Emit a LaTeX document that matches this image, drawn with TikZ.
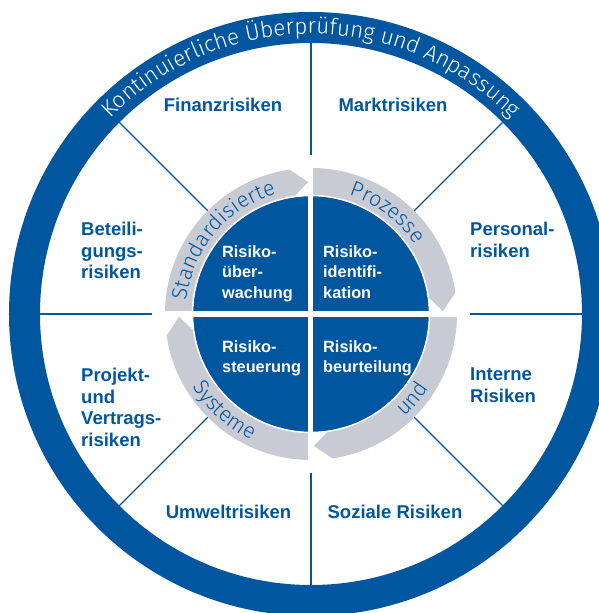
\documentclass[tikz,border=0pt]{standalone}
\usepackage{fontspec}
\setmainfont{Liberation Sans}
\IfFontExistsTF{Fira Sans Light}{\newfontfamily\ringfont{Fira Sans Light}}{\newfontfamily\ringfont{Liberation Sans}}
\usepackage{tikz}
\usetikzlibrary{decorations.text,positioning}
\definecolor{riskblue}{RGB}{0,87,160}
\definecolor{ringgray}{RGB}{200,203,211}

\tikzset{
	outerlabel/.style={text=riskblue, font=\fontsize{18.5}{21.5}\selectfont\bfseries, align=left, inner sep=0pt},
	innerlabel/.style={text=white, font=\fontsize{16.3}{20.5}\selectfont\bfseries, align=left, inner sep=0pt},
	divider/.style={riskblue, line width=1.4pt}
}

\begin{document}
\begin{tikzpicture}[x=1pt, y=1pt]
			
			\useasboundingbox (-311,-299) rectangle (288,314);
			
			% Outer ring
			\draw[riskblue, line width=31pt] (0,0) circle[radius=286.5];
			\path[decorate, decoration={text along path, text align=center,
				text={|\ringfont\fontsize{22.5}{22.5}\selectfont\color{white}|Kontinuierliche Überprüfung und Anpassung}}]
				(170:280) arc[start angle=170, end angle=10, radius=280];
			
			% Sector lines
			\foreach \a/\r in {0/159, 45/146, 90/159, 135/146, 180/159, 225/146, 270/159, 315/146}
			\draw[divider] (\a:\r) -- (\a:271);
			
			% Gray arrows
			\foreach \a in {180, 90, 0, -90}
			\fill[ringgray] (\a:146) arc[start angle=\a, end angle={\a-81.5}, radius=146]
				-- ({\a-88.8}:132) -- ({\a-81.5}:118)
				arc[start angle={\a-81.5}, end angle=\a, radius=118] -- cycle;
			
			% Inner disk
			\fill[riskblue] (0,0) circle[radius=118];
			\draw[white, line width=1.5pt] (0,0) circle[radius=118.5];
			\fill[white] (-2.5,-150) rectangle (2.5,150);
			\fill[white] (-150,-2.5) rectangle (150,2.5);
			
			% Arrow texts
			\path[decorate, decoration={text along path, text align=center,
				text={|\ringfont\fontsize{21.5}{21.5}\selectfont\color{riskblue}|Standardisierte}}]
				(180:125) arc[start angle=180, end angle=100, radius=125];
			\path[decorate, decoration={text along path, text align=center,
				text={|\ringfont\fontsize{21.5}{21.5}\selectfont\color{riskblue}|Prozesse}}]
				(88:125) arc[start angle=88, end angle=18, radius=125];
			\path[decorate, decoration={text along path, text align=center,
				text={|\ringfont\fontsize{21.5}{21.5}\selectfont\color{riskblue}|Systeme}}]
				(193:139) arc[start angle=193, end angle=263, radius=139];
			\path[decorate, decoration={text along path, text align=center,
				text={|\ringfont\fontsize{21.5}{21.5}\selectfont\color{riskblue}|und}}]
				(295:139) arc[start angle=295, end angle=345, radius=139];
			
			% Risk categories
			\node[outerlabel] (finanz) at (-88,209) {Finanzrisiken};
			\node[outerlabel] (markt) at (82,209) {Marktrisiken};
			\node[outerlabel, anchor=north west] (beteiligung) at (-230,92) {Beteili-\\gungs-\\risiken};
			\node[outerlabel, anchor=north west] (personal) at (159,92) {Personal-\\risiken};
			\node[outerlabel, anchor=north west] (projekt) at (-230,-54) {Projekt-\\und\\Vertrags-\\risiken};
			\node[outerlabel, anchor=north west] (intern) at (159,-54) {Interne\\Risiken};
			\node[outerlabel] (umwelt) at (-82.5,-197.5) {Umweltrisiken};
			\node[outerlabel] (sozial) at (84,-197.5) {Soziale Risiken};
			
			% Process steps
			\node[innerlabel, anchor=north west] (ueberwachung) at (-89,69) {Risiko-\\über-\\wachung};
			\node[innerlabel, anchor=north west] (identifikation) at (12,69) {Risiko-\\identifi-\\kation};
			\node[innerlabel, anchor=north west] (steuerung) at (-89,-26) {Risiko-\\steuerung};
			\node[innerlabel, anchor=north west] (beurteilung) at (12,-26) {Risiko-\\beurteilung};
			
		\end{tikzpicture}
\end{document}
